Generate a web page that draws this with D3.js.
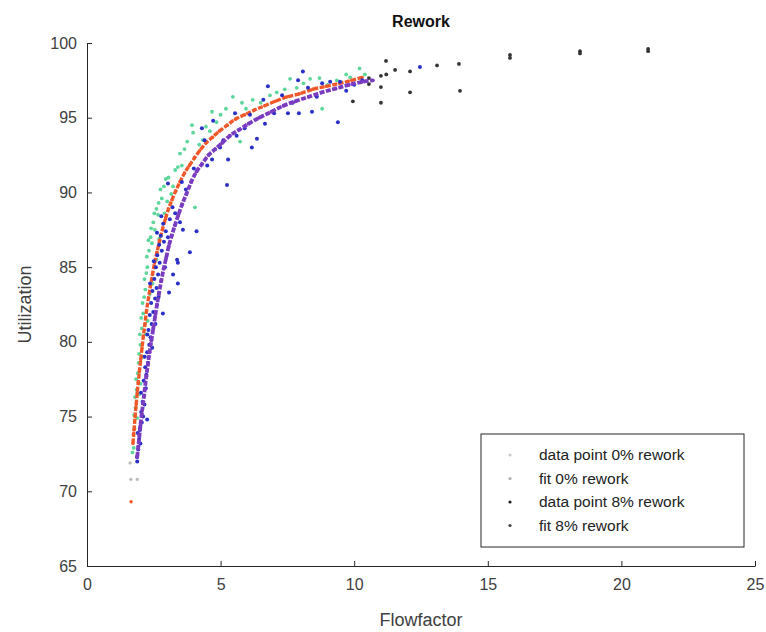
<!DOCTYPE html>
<html>
<head>
<meta charset="utf-8">
<script src="https://cdn.jsdelivr.net/npm/d3@7"></script>
<style>
  body { margin: 0; background: #fff; }
  text { font-family: "Liberation Sans", Arial, sans-serif; }
</style>
</head>
<body>
<svg id="chart"></svg>
<script>
// data: [flowfactor, utilization]
const fit0 = [
  [1.65,69.3],[1.72,73.2],[1.76,74.1],[1.80,75.0],[1.84,75.8],[1.88,76.6],[1.92,77.3],[1.96,78.0],
  [2.01,78.8],[2.06,79.6],[2.11,80.4],[2.17,81.2],[2.23,82.1],[2.30,82.9],[2.37,83.7],[2.45,84.5],
  [2.53,85.3],[2.62,86.0],[2.72,86.8],[2.82,87.5],[2.93,88.2],[3.05,88.9],[3.18,89.5],[3.32,90.1],
  [3.48,90.7],[3.65,91.3],[3.83,91.8],[4.02,92.3],[4.22,92.8],[4.45,93.3],[4.70,93.7],[4.95,94.1],
  [5.25,94.5],[5.55,94.9],[5.90,95.2],[6.25,95.5],[6.65,95.8],[7.05,96.1],[7.50,96.4],[7.95,96.6],
  [8.45,96.9],[8.95,97.1],[9.45,97.3],[9.90,97.5],[10.3,97.7]
];
const fit8 = [
  [1.88,72.3],[1.92,73.0],[1.96,73.7],[2.00,74.4],[2.05,75.2],[2.10,75.9],[2.16,76.8],[2.22,77.7],
  [2.28,78.5],[2.34,79.3],[2.41,80.1],[2.48,80.9],[2.55,81.7],[2.62,82.5],[2.70,83.3],[2.78,84.1],
  [2.87,84.9],[2.96,85.6],[3.06,86.4],[3.17,87.1],[3.29,87.8],[3.42,88.5],[3.56,89.2],[3.72,89.9],
  [3.90,90.7],[4.10,91.4],[4.30,91.9],[4.55,92.5],[4.80,92.9],[5.05,93.3],[5.35,93.8],[5.70,94.2],
  [6.05,94.6],[6.45,95.0],[6.90,95.4],[7.35,95.8],[7.80,96.1],[8.30,96.4],[8.80,96.7],[9.30,96.95],
  [9.80,97.2],[10.3,97.4],[10.7,97.5]
];
const data0 = [
  [1.70,72.6],[1.74,73.8],[1.78,74.2],[1.76,75.1],[1.82,75.6],[1.80,76.3],[1.86,76.8],[1.84,77.5],
  [1.90,77.9],[1.93,78.6],[1.95,79.2],[2.00,79.8],[1.98,80.5],[2.05,80.9],[2.03,81.6],[2.10,81.9],
  [2.08,82.6],[2.14,83.0],[2.18,83.5],[2.15,84.2],[2.22,84.6],[2.26,85.0],[2.24,85.7],[2.32,86.1],
  [2.30,86.8],[2.38,87.0],[2.43,86.6],[2.40,87.6],[2.48,88.0],[2.54,87.5],[2.52,88.6],[2.60,88.9],
  [2.66,88.5],[2.68,89.3],[2.80,89.6],[2.75,90.2],[2.88,90.4],[2.95,90.9],[3.05,91.0],[3.22,90.4],
  [3.30,91.5],[3.40,91.7],[3.55,91.8],[3.48,92.6],[3.65,92.9],[3.75,93.4],[3.93,94.5],[3.97,94.0],
  [4.04,89.0],[4.20,93.2],[4.34,93.5],[4.45,94.4],[4.68,95.4],[4.60,94.1],[4.85,94.7],[5.00,95.2],
  [5.20,95.6],[5.46,96.4],[5.80,96.0],[5.73,93.4],[5.95,95.6],[6.20,96.2],[6.50,96.0],[6.85,96.5],
  [7.10,96.7],[7.40,96.9],[7.60,97.6],[7.85,97.0],[8.10,97.3],[8.35,97.6],[8.70,97.65],[8.80,95.6],
  [9.00,97.2],[9.35,97.5],[9.70,97.9],[9.85,97.7],[10.20,98.3],[10.40,97.9],
  [1.95,76.5],[2.20,80.5],[2.35,83.2],[2.60,85.5],[2.90,88.6],[3.15,89.9],
  [1.75,72.9],[1.88,74.9],[2.00,77.2],[2.12,79.0],[2.27,81.4],[2.45,83.9],[2.70,86.9],[3.00,89.4]
];
const data8 = [
  [1.88,72.0],[1.92,72.8],[1.95,73.5],[2.00,73.2],[1.98,74.2],[2.05,74.6],[2.03,75.3],[2.10,75.0],
  [2.08,76.0],[2.14,76.4],[2.20,76.9],[2.12,77.4],[2.22,77.8],[2.18,78.3],[2.28,78.6],[2.25,79.3],
  [2.33,79.8],[2.38,80.3],[2.30,80.8],[2.42,81.2],[2.35,81.8],[2.48,82.0],[2.40,82.6],[2.55,82.9],
  [2.45,83.4],[2.60,83.6],[2.52,84.2],[2.66,84.5],[2.58,85.0],[2.72,85.3],[2.63,85.8],[2.80,86.1],
  [2.70,86.5],[2.88,86.7],[2.76,87.1],[2.95,87.4],[2.85,87.9],[3.03,87.0],[3.03,90.6],[3.10,88.2],
  [3.37,85.5],[3.48,88.0],[3.59,87.5],[3.55,90.7],[3.20,89.0],[3.30,88.6],[3.85,86.0],[4.10,87.4],
  [4.00,91.6],[3.70,90.2],[4.30,94.3],[4.40,93.5],[4.50,91.8],[4.68,92.2],[4.72,94.8],[4.98,93.0],
  [5.24,90.5],[5.28,92.2],[5.10,93.5],[5.54,95.3],[5.60,93.8],[5.90,94.3],[6.10,95.2],[6.17,93.0],
  [6.36,93.6],[6.60,96.2],[6.66,94.6],[6.77,97.1],[7.00,95.3],[7.30,96.5],[7.52,95.3],[7.70,96.0],
  [7.93,95.3],[7.90,97.5],[8.08,98.1],[8.27,97.0],[8.42,95.4],[8.60,96.4],[8.80,97.3],[9.10,97.4],
  [9.39,94.7],[9.47,97.4],[9.70,96.8],[10.0,97.2],[10.3,97.5],[12.46,98.4],
  [3.22,84.5],[3.40,83.9],[3.07,83.3],[2.84,81.9],[3.40,85.3],[2.25,74.8],[1.98,74.1],[1.87,72.3],
  [1.90,73.9],[2.02,76.6],[2.16,79.0],[2.26,80.5],[2.36,83.9],[2.50,85.4],[2.62,87.3],[2.78,88.4],
  [2.44,79.6],[2.56,81.2],[2.68,83.0],[2.92,85.0],[2.15,75.8]
];
// points drawn dark / faint in the picture
const darkPoints = [
  [11.19,98.8],[11.0,97.8],[11.2,97.9],[10.55,97.65],[10.55,97.25],[11.0,97.05],[11.0,96.0],
  [9.95,96.1],[11.53,98.2],[12.09,98.1],[12.09,96.7],[13.1,98.5],[13.92,98.6],[13.96,96.8],
  [15.83,99.2],[15.83,99.0],[18.45,99.45],[18.45,99.3],[21.0,99.6],[21.0,99.45]
];
const faintPoints = [[1.61,71.9],[1.64,70.8],[1.88,70.8]];

const legendLabels = ["data point 0% rework", "fit 0% rework", "data point 8% rework", "fit 8% rework"];
const legendColors = ["#c8c8c8", "#b0b0b0", "#222222", "#444444"];
const xTicks = [0, 5, 10, 15, 20, 25];
const yTicks = [65, 70, 75, 80, 85, 90, 95, 100];

const width = 766, height = 632;
const margin = { top: 43, right: 11, bottom: 66, left: 87 };

const svg = d3.select("#chart").attr("width", width).attr("height", height);

const x = d3.scaleLinear().domain([0, 25]).range([margin.left, width - margin.right]);
const y = d3.scaleLinear().domain([65, 100]).range([height - margin.bottom, margin.top]);

// axes
svg.append("g")
  .attr("transform", `translate(0,${height - margin.bottom})`)
  .call(d3.axisBottom(x).tickValues(xTicks).tickSizeInner(-5).tickSizeOuter(0).tickPadding(13))
  .call(g => g.select(".domain").attr("stroke", "#262626"))
  .call(g => g.selectAll("line").attr("stroke", "#262626"))
  .selectAll("text")
  .attr("font-size", 16)
  .attr("fill", "#404040");

svg.append("g")
  .attr("transform", `translate(${margin.left},0)`)
  .call(d3.axisLeft(y).tickValues(yTicks).tickSizeInner(-5).tickSizeOuter(0).tickPadding(10))
  .call(g => g.select(".domain").attr("stroke", "#262626"))
  .call(g => g.selectAll("line").attr("stroke", "#262626"))
  .selectAll("text")
  .attr("font-size", 16)
  .attr("fill", "#404040");

// scatter series
function dots(arr, color, r) {
  svg.append("g")
    .selectAll("circle")
    .data(arr)
    .enter()
    .append("circle")
    .attr("cx", d => x(d[0]))
    .attr("cy", d => y(d[1]))
    .attr("r", r)
    .attr("fill", color);
}

const fitLine = d3.line()
  .x(d => x(d[0]))
  .y(d => y(d[1]))
  .curve(d3.curveMonotoneX);

function fit(arr, color, w) {
  svg.append("path")
    .attr("d", fitLine(arr.filter(d => d[1] > 72)))
    .attr("fill", "none")
    .attr("stroke", color)
    .attr("stroke-width", w)
    .attr("stroke-dasharray", "5,1.5");
  dots(arr, color, w / 2);
}

dots(faintPoints, "#b8b8b8", 1.6);
dots(darkPoints, "#333333", 1.9);
dots(data0, "#5cd69a", 1.9);
fit(fit0, "#f0582a", 3.4);
dots(data8, "#2a2fc8", 2.0);
fit(fit8, "#7a3cc0", 3.8);

// title and labels
svg.append("text")
  .attr("x", (x(0) + x(25)) / 2)
  .attr("y", 27)
  .attr("text-anchor", "middle")
  .attr("font-size", 16)
  .attr("font-weight", "bold")
  .attr("fill", "#111")
  .text("Rework");

svg.append("text")
  .attr("x", (x(0) + x(25)) / 2)
  .attr("y", 626)
  .attr("text-anchor", "middle")
  .attr("font-size", 18)
  .attr("fill", "#404040")
  .text("Flowfactor");

svg.append("text")
  .attr("transform", `translate(31,${(y(65) + y(100)) / 2}) rotate(-90)`)
  .attr("text-anchor", "middle")
  .attr("font-size", 18)
  .attr("fill", "#404040")
  .text("Utilization");

// legend
const lX = 481, lY = 434;
svg.append("rect")
  .attr("x", lX)
  .attr("y", lY)
  .attr("width", 263)
  .attr("height", 113)
  .attr("fill", "white")
  .attr("stroke", "#262626")
  .attr("stroke-width", 1);

const items = svg.append("g")
  .selectAll("g")
  .data(legendLabels)
  .enter()
  .append("g")
  .attr("transform", (d, i) => `translate(${lX},${lY + 21 + i * 23.5})`);

items.append("circle")
  .attr("cx", 29)
  .attr("cy", 0)
  .attr("r", 1.6)
  .attr("fill", (d, i) => legendColors[i]);

items.append("text")
  .attr("x", 58)
  .attr("y", 5)
  .attr("font-size", 15.5)
  .attr("fill", "#222")
  .text(d => d);
</script>
</body>
</html>
